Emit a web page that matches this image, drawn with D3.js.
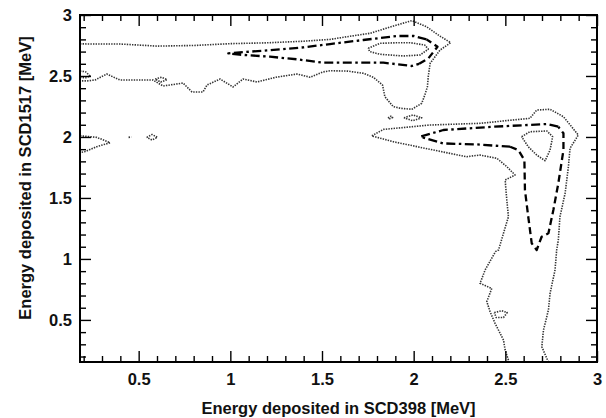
<!DOCTYPE html>
<html><head><meta charset="utf-8">
<script src="https://cdn.jsdelivr.net/npm/d3@7/dist/d3.min.js"></script>
<style>body{margin:0;background:#fff} svg{display:block}</style>
</head><body>
<svg id="c" width="606" height="418"></svg>
<script>
// ---- axis data ----
const xDomain = [0.18, 3.0];
const yDomain = [0.155, 3.0];
const xTicks = [0.5, 1, 1.5, 2, 2.5, 3];
const yTicks = [0.5, 1, 1.5, 2, 2.5, 3];
const xTickLabels = ["0.5", "1", "1.5", "2", "2.5", "3"];
const yTickLabels = ["0.5", "1", "1.5", "2", "2.5", "3"];
const xTitle = "Energy deposited in SCD398 [MeV]";
const yTitle = "Energy deposited in SCD1517 [MeV]";

// ---- contour lines (x = SCD398 energy, y = SCD1517 energy) ----
// outer (lowest level) dotted contour, upper-left band
const outerTopDotted = [
  [0.18,2.763],[0.4,2.762],[0.6,2.745],[0.8,2.75],[1.0,2.765],[1.2,2.772],[1.4,2.785],
  [1.544,2.80],[1.65,2.825],[1.762,2.85],[1.88,2.905],[1.99,2.954],[2.07,2.904],
  [2.14,2.83],[2.202,2.773],[2.144,2.713],[2.09,2.604],[2.08,2.50],[2.075,2.412],
  [2.06,2.34],[2.044,2.276],[1.99,2.227],[1.93,2.235],[1.889,2.248],[1.843,2.33],
  [1.83,2.426],[1.78,2.49],[1.725,2.522],[1.64,2.54],[1.544,2.543],[1.505,2.533],
  [1.435,2.49],[1.364,2.516],[1.25,2.49],[1.145,2.451],[1.069,2.475],[1.015,2.41],
  [0.944,2.475],[0.873,2.426],[0.851,2.369],[0.791,2.369],[0.742,2.442],[0.633,2.418],
  [0.578,2.467],[0.398,2.467],[0.326,2.516],[0.262,2.467],[0.22,2.46],[0.18,2.46]
];
const outerTopLeftBit = [[0.18,2.54],[0.21,2.535],[0.235,2.5],[0.21,2.485],[0.18,2.49]];
const outerTopSmallLoop = [[0.59,2.475],[0.625,2.49],[0.655,2.47],[0.62,2.45],[0.59,2.475]];
// dotted inner loop at the top
const innerTopDotted = [
  [1.752,2.727],[1.816,2.768],[1.90,2.772],[1.98,2.773],[2.06,2.754],[2.08,2.72],
  [2.035,2.672],[1.944,2.664],[1.816,2.678],[1.76,2.70],[1.752,2.727]
];
// dash-dot contour at the top
const dashDotTop = [
  [2.07,2.80],[1.999,2.828],[1.908,2.828],[1.725,2.795],[1.544,2.762],[1.40,2.735],
  [1.20,2.71],[0.989,2.686],[1.05,2.675],[1.216,2.658],[1.362,2.637],[1.505,2.609],
  [1.653,2.609],[1.835,2.609],[1.99,2.582],[2.03,2.60]
];
// dashed piece at the tip of the top band
const dashedTop = [[2.03,2.60],[2.08,2.644],[2.13,2.74],[2.07,2.80]];
// small islands near (2, 2.15)
const islandA = [[1.86,2.155],[1.875,2.17],[1.885,2.16],[1.87,2.15],[1.86,2.155]];
const islandB = [[1.947,2.157],[1.995,2.18],[2.044,2.157],[1.995,2.133],[1.947,2.157]];
// outer dotted contour, lower-right band
const outerRightUpper = [
  [2.517,0.17],[2.499,0.253],[2.49,0.335],[2.444,0.472],[2.417,0.567],[2.399,0.65],
  [2.426,0.758],[2.362,0.80],[2.39,0.91],[2.446,1.06],[2.463,1.073],[2.49,1.21],
  [2.517,1.346],[2.508,1.483],[2.499,1.647],[2.553,1.688],[2.508,1.757],[2.454,1.825],
  [2.362,1.852],[2.289,1.838],[2.107,1.893],[1.889,1.961],[1.771,2.009],[1.835,2.062],
  [2.09,2.098],[2.362,2.112],[2.634,2.153],[2.671,2.221],[2.744,2.227],[2.817,2.166],
  [2.898,2.016],[2.853,1.907],[2.844,1.757],[2.826,1.538],[2.798,1.346],[2.789,1.155],
  [2.78,1.073],[2.771,0.909],[2.744,0.718],[2.735,0.581],[2.708,0.417],[2.699,0.28],
  [2.726,0.185],[2.735,0.155]
];
const outerRightLoop = [[2.44,0.56],[2.48,0.575],[2.51,0.56],[2.49,0.52],[2.45,0.52],[2.44,0.56]];
// inner dotted triangle near (2.7, 1.95)
const innerRightDotted = [
  [2.589,2.002],[2.634,2.043],[2.727,2.049],[2.758,2.002],[2.744,1.893],[2.717,1.805],
  [2.671,1.852],[2.625,1.92],[2.589,2.002]
];
// dash-dot contour, lower-right band (horizontal arm)
const dashDotRight = [
  [2.789,2.084],[2.727,2.106],[2.435,2.084],[2.162,2.057],[2.036,2.002],
  [2.162,1.947],[2.344,1.939],[2.526,1.92]
];
// dashed contour, lower-right band (vertical arm)
const dashedRight = [
  [2.526,1.92],[2.571,1.893],[2.604,1.811],[2.607,1.565],[2.625,1.346],[2.644,1.128],
  [2.671,1.073],[2.698,1.182],[2.735,1.21],[2.762,1.401],[2.789,1.62],[2.817,1.893],
  [2.817,2.03],[2.789,2.084]
];
// left-edge dotted pieces near y = 2
const leftDotted = [[0.18,2.01],[0.271,1.997],[0.344,1.953],[0.271,1.92],[0.207,1.88],[0.18,1.872]];
const leftBlob = [[0.445,1.997],[0.46,2.0]];
const leftDiamond = [[0.544,1.997],[0.573,2.02],[0.602,1.997],[0.573,1.975],[0.544,1.997]];

const contourGroups = [
  {style: "dot", lines: [outerTopDotted, outerTopLeftBit, outerTopSmallLoop, innerTopDotted,
                         islandA, islandB, outerRightUpper, outerRightLoop, innerRightDotted,
                         leftDotted, leftBlob, leftDiamond]},
  {style: "dashdot", lines: [dashDotTop, dashDotRight]},
  {style: "dash", lines: [dashedTop, dashedRight]}
];

// ---- drawing ----
const L = 80, R = 597, T = 15, B = 362;
const svg = d3.select("#c");
const x = d3.scaleLinear().domain(xDomain).range([L, R]);
const y = d3.scaleLinear().domain(yDomain).range([B, T]);
const font = "'Liberation Sans', Arial, Helvetica, sans-serif";

const styles = {
  dot: {w: 1.6, dash: "1.4,1.2", c: "#333"},
  dashdot: {w: 2.3, dash: "9,3.5,2.5,3.5", c: "#000"},
  dash: {w: 2.3, dash: "7,4", c: "#000"}
};
const line = d3.line().x(d => x(d[0])).y(d => y(d[1]));
const cg = svg.append("g");
contourGroups.forEach(g => {
  const s = styles[g.style];
  g.lines.forEach(pts => {
    cg.append("path").attr("d", line(pts)).attr("fill", "none")
      .attr("stroke", s.c).attr("stroke-width", s.w)
      .attr("stroke-dasharray", s.dash).attr("stroke-linejoin", "round");
  });
});

const minorX = d3.range(2, 30).map(d => d / 10).filter(v => Math.abs(v * 2 - Math.round(v * 2)) > 1e-6);
const minorY = d3.range(2, 30).map(d => d / 10).filter(v => Math.abs(v * 2 - Math.round(v * 2)) > 1e-6);

function styleAxis(g) {
  g.select(".domain").remove();
  g.selectAll(".tick line").attr("stroke", "#000").attr("stroke-width", 1.4);
  g.selectAll(".tick text").attr("fill", "#111").style("font-family", font)
    .style("font-weight", "bold").style("font-size", "16.5px");
}
// bottom
svg.append("g").attr("transform", `translate(0,${B})`)
  .call(d3.axisBottom(x).tickValues(xTicks).tickSize(-11).tickPadding(11)
    .tickFormat((d, i) => xTickLabels[i])).call(styleAxis);
svg.append("g").attr("transform", `translate(0,${B})`)
  .call(d3.axisBottom(x).tickValues(minorX).tickSize(-6).tickFormat("")).call(styleAxis);
// top
svg.append("g").attr("transform", `translate(0,${T})`)
  .call(d3.axisTop(x).tickValues(xTicks).tickSize(-11).tickFormat("")).call(styleAxis);
svg.append("g").attr("transform", `translate(0,${T})`)
  .call(d3.axisTop(x).tickValues(minorX).tickSize(-6).tickFormat("")).call(styleAxis);
// left
svg.append("g").attr("transform", `translate(${L},0)`)
  .call(d3.axisLeft(y).tickValues(yTicks).tickSize(-11).tickPadding(8)
    .tickFormat((d, i) => yTickLabels[i])).call(styleAxis);
svg.append("g").attr("transform", `translate(${L},0)`)
  .call(d3.axisLeft(y).tickValues(minorY).tickSize(-6).tickFormat("")).call(styleAxis);
// right
svg.append("g").attr("transform", `translate(${R},0)`)
  .call(d3.axisRight(y).tickValues(yTicks).tickSize(-11).tickFormat("")).call(styleAxis);
svg.append("g").attr("transform", `translate(${R},0)`)
  .call(d3.axisRight(y).tickValues(minorY).tickSize(-6).tickFormat("")).call(styleAxis);

// frame
svg.append("rect").attr("x", L).attr("y", T).attr("width", R - L).attr("height", B - T)
  .attr("fill", "none").attr("stroke", "#000").attr("stroke-width", 2);

// titles
svg.append("text").attr("x", (L + R) / 2).attr("y", 414)
  .attr("text-anchor", "middle").style("font-family", font).style("font-weight", "bold")
  .style("font-size", "16.5px").attr("fill", "#111").text(xTitle);
svg.append("text").attr("transform", `translate(31,178) rotate(-90)`)
  .attr("text-anchor", "middle").style("font-family", font).style("font-weight", "bold")
  .style("font-size", "16.5px").attr("fill", "#111").text(yTitle);
</script>
</body></html>
